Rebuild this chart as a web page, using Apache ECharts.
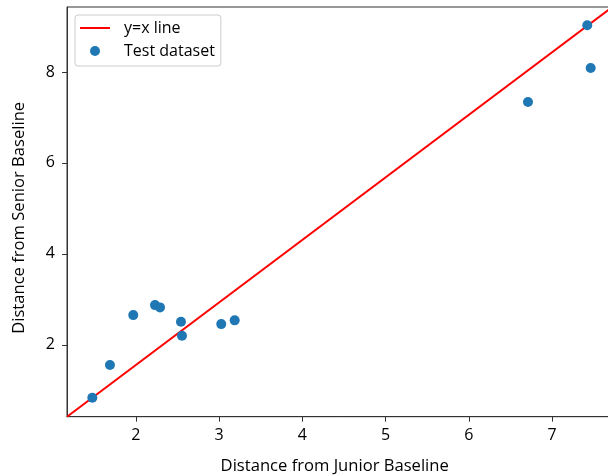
<!DOCTYPE html>
<html>
<head>
<meta charset="utf-8">
<script src="https://cdn.jsdelivr.net/npm/echarts@6/dist/echarts.min.js"></script>
<style>html,body{margin:0;padding:0;background:#fff;}#c{width:608px;height:476px;}</style>
</head>
<body>
<div id="c"></div>
<script>
// Data
const juniorDist = [1.478, 1.690, 1.970, 2.231, 2.291, 2.543, 2.555, 3.027, 3.188, 6.711, 7.423, 7.464];
const seniorDist = [0.836, 1.554, 2.653, 2.873, 2.822, 2.506, 2.198, 2.455, 2.537, 7.341, 9.027, 8.088];
// Reference line endpoints (drawn across the axes diagonal)
const refLineX = [1.174, 7.725];
const refLineY = [0.418, 9.43];
const xRange = [1.174, 7.725];
const yRange = [0.418, 9.43];
const xLabel = 'Distance from Junior Baseline';
const yLabel = 'Distance from Senior Baseline';
const seriesNames = ['y=x line', 'Test dataset'];

const FONT = 'Open Sans';
const FS = 16;
const FSN = 16.6;
const chart = echarts.init(document.getElementById('c'), null, {renderer: 'canvas'});
chart.setOption({
  animation: false,
  backgroundColor: '#fff',
  textStyle: {fontFamily: FONT},
  grid: {left: 67, top: 7, width: 545.4, height: 409.7, show: true, borderColor: '#333', borderWidth: 1,
         containLabel: false, outerBoundsMode: 'none'},
  legend: {
    orient: 'vertical', left: 75, top: 15,
    padding: [5, 6, 7, 5], itemGap: 7, itemWidth: 30, itemHeight: 10,
    borderColor: '#cccccc', borderWidth: 1, borderRadius: 3, backgroundColor: '#fff',
    textStyle: {fontFamily: FONT, fontSize: FS, color: '#000', padding: [0, 0, 0, 9]},
    data: [
      {name: seriesNames[0], icon: 'path://M0,0H30V2H0Z', itemStyle: {color: '#ff0000'}},
      {name: seriesNames[1], icon: 'circle'}
    ]
  },
  xAxis: {
    type: 'value', min: xRange[0], max: xRange[1], minInterval: 1, maxInterval: 1,
    name: xLabel, nameLocation: 'middle', nameGap: 41,
    nameTextStyle: {fontFamily: FONT, fontSize: FSN, color: '#000', padding: [0, 10, 0, 0]},
    axisLine: {show: true, lineStyle: {color: '#333', width: 1}},
    axisTick: {show: true, length: 5, lineStyle: {color: '#333'}},
    axisLabel: {margin: 11, fontFamily: FONT, fontSize: FS, color: '#000', showMinLabel: false, showMaxLabel: false},
    splitLine: {show: false}
  },
  yAxis: {
    type: 'value', min: yRange[0], max: yRange[1], minInterval: 2, maxInterval: 2,
    name: yLabel, nameLocation: 'middle', nameGap: 39,
    nameTextStyle: {fontFamily: FONT, fontSize: FSN, color: '#000', padding: [0, 12, 0, 0]},
    axisLine: {show: true, lineStyle: {color: '#333', width: 1}},
    axisTick: {show: true, length: 5, lineStyle: {color: '#333'}},
    axisLabel: {margin: 12, fontFamily: FONT, fontSize: FS, color: '#000', showMinLabel: false, showMaxLabel: false},
    splitLine: {show: false}
  },
  series: [
    {
      name: seriesNames[0], type: 'line', symbol: 'none', z: 2,
      data: refLineX.map((x, i) => [x, refLineY[i]]),
      lineStyle: {color: '#ff0000', width: 2},
      itemStyle: {color: '#ff0000'}
    },
    {
      name: seriesNames[1], type: 'scatter', symbolSize: 10, z: 3,
      data: juniorDist.map((x, i) => [x, seniorDist[i]]),
      itemStyle: {color: '#1f77b4', opacity: 1}
    }
  ]
});
</script>
</body>
</html>
